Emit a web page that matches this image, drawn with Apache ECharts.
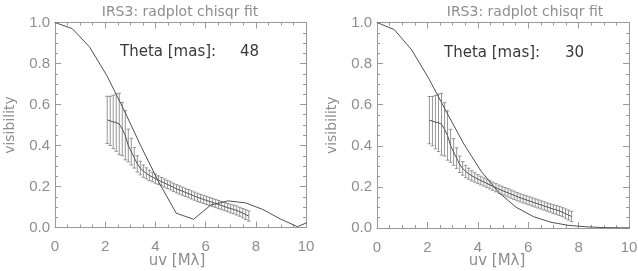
<!DOCTYPE html>
<html>
<head>
<meta charset="utf-8">
<script src="https://cdn.jsdelivr.net/npm/echarts@6/dist/echarts.min.js"></script>
<style>html,body{margin:0;padding:0;background:#fff}#c{width:638px;height:271px}</style>
</head>
<body>
<div id="c"></div>
<script>
// ---- data ----
const modelX = [0, 0.69, 1.38, 2.07, 2.76, 3.45, 4.14, 4.83, 5.52, 6.21, 6.90, 7.59, 8.28, 8.97, 9.66, 10.35];
const modelLeft = [1.0, 0.97, 0.88, 0.74, 0.57, 0.39, 0.22, 0.07, 0.04, 0.11, 0.13, 0.12, 0.088, 0.042, 0.004, 0.04];
const modelRight = [1.0, 0.965, 0.866, 0.724, 0.564, 0.408, 0.275, 0.173, 0.101, 0.055, 0.028, 0.013, 0.006, 0.002, 0.001, 0.0003];

const dataX = [2.08,2.20,2.32,2.44,2.56,2.68,2.80,2.92,3.04,3.16,3.28,3.40,3.52,3.64,3.76,3.88,4.00,4.12,4.24,4.36,4.48,4.60,4.72,4.84,4.96,5.08,5.20,5.32,5.44,5.56,5.68,5.80,5.92,6.04,6.16,6.28,6.40,6.52,6.64,6.76,6.88,7.00,7.12,7.24,7.36,7.48,7.60,7.72];
const dataY = [0.525,0.52,0.515,0.512,0.505,0.48,0.45,0.40,0.37,0.34,0.31,0.29,0.275,0.264,0.254,0.246,0.238,0.231,0.224,0.217,0.210,0.203,0.196,0.189,0.183,0.177,0.171,0.165,0.159,0.153,0.147,0.142,0.137,0.132,0.127,0.122,0.117,0.112,0.107,0.102,0.097,0.092,0.088,0.083,0.077,0.070,0.063,0.056];
const dataErr = [0.115,0.12,0.13,0.14,0.15,0.13,0.12,0.08,0.065,0.05,0.04,0.033,0.03,0.027,0.025,0.023,0.022,0.021,0.02,0.02,0.02,0.02,0.02,0.02,0.02,0.02,0.02,0.02,0.02,0.02,0.02,0.02,0.02,0.02,0.02,0.02,0.02,0.02,0.02,0.02,0.02,0.021,0.021,0.022,0.022,0.023,0.024,0.025];

const xTicks = [0, 2, 4, 6, 8, 10];
const yTicks = [0.0, 0.2, 0.4, 0.6, 0.8, 1.0];
const titleText = 'IRS3: radplot chisqr fit';
const xName = 'uv [Mλ]';
const yName = 'visibility';
const thetaLabel = 'Theta [mas]:';
const thetaValues = ['48', '30'];

// ---- build ----
const chart = echarts.init(document.getElementById('c'), null, {renderer: 'canvas'});
const AX = '#9a9a9a';
const TXT = '#8e8e8e';
const LINE = '#505050';

const grids = [
  {left: 55, top: 22.5, width: 251, height: 205, outerBoundsMode: 'none', containLabel: false},
  {left: 377, top: 22.5, width: 252, height: 205.5, outerBoundsMode: 'none', containLabel: false}
];

function xAx(gi, pos, labels) {
  return {
    type: 'value', gridIndex: gi, position: pos, min: 0, max: 10, interval: 2,
    axisLine: {show: true, onZero: false, lineStyle: {color: AX, width: 1}},
    axisTick: {show: true, inside: true, length: 6, lineStyle: {color: AX}},
    minorTick: {show: true, splitNumber: 4, length: 3, lineStyle: {color: AX}},
    splitLine: {show: false},
    axisLabel: {show: labels, margin: 12, color: TXT, fontSize: 15, fontFamily: 'Liberation Sans',
      formatter: v => xTicks.includes(v) ? String(v) : ''}
  };
}
function yAx(gi, pos, labels) {
  return {
    type: 'value', gridIndex: gi, position: pos, min: 0, max: 1, interval: 0.2,
    axisLine: {show: true, onZero: false, lineStyle: {color: AX, width: 1}},
    axisTick: {show: true, inside: true, length: 6, lineStyle: {color: AX}},
    minorTick: {show: true, splitNumber: 4, length: 3, lineStyle: {color: AX}},
    splitLine: {show: false},
    axisLabel: {show: labels, margin: 5, color: TXT, fontSize: 15, fontFamily: 'Liberation Sans',
      formatter: v => yTicks.some(t => Math.abs(t - v) < 1e-6) ? v.toFixed(1) : ''},
    name: labels ? yName : '', nameLocation: 'middle', nameGap: 38,
    nameTextStyle: {color: TXT, fontSize: 14, fontFamily: 'DejaVu Sans'}
  };
}

const xAxis = [xAx(0,'bottom',true), xAx(0,'top',false), xAx(1,'bottom',true), xAx(1,'top',false)];
const yAxis = [yAx(0,'left',true), yAx(0,'right',false), yAx(1,'left',true), yAx(1,'right',false)];

const errData = dataX.map((x, i) => [x, dataY[i] - dataErr[i], dataY[i] + dataErr[i]]);
const dataLine = dataX.map((x, i) => [x, dataY[i]]);

function errSeries(xi, yi) {
  return {
    type: 'custom', xAxisIndex: xi, yAxisIndex: yi, data: errData, clip: true, z: 2,
    renderItem: (params, api) => {
      const x = api.value(0), lo = api.value(1), hi = api.value(2);
      const a = api.coord([x, lo]), b = api.coord([x, hi]);
      const w = 1.8;
      const st = {stroke: '#8a8a8a', lineWidth: 0.9, fill: null};
      return {type: 'group', children: [
        {type: 'line', shape: {x1: a[0], y1: a[1], x2: b[0], y2: b[1]}, style: st},
        {type: 'line', shape: {x1: a[0]-w, y1: a[1], x2: a[0]+w, y2: a[1]}, style: st},
        {type: 'line', shape: {x1: b[0]-w, y1: b[1], x2: b[0]+w, y2: b[1]}, style: st}
      ]};
    }
  };
}
function lineSeries(xi, yi, data, z) {
  return {type: 'line', xAxisIndex: xi, yAxisIndex: yi, data: data, showSymbol: false, symbol: 'none',
    clip: true, lineStyle: {color: LINE, width: 1}, z: z, animation: false};
}

const series = [
  errSeries(0, 0),
  lineSeries(0, 0, dataLine, 3),
  lineSeries(0, 0, modelX.map((x, i) => [x, modelLeft[i]]), 4),
  errSeries(2, 2),
  lineSeries(2, 2, dataLine, 3),
  lineSeries(2, 2, modelX.map((x, i) => [x, modelRight[i]]), 4)
];

const txt = (x, y, text, fill, size, align) => ({type: 'text', x, y,
  style: {text, fill, fontSize: size, fontFamily: 'DejaVu Sans', align: align, verticalAlign: 'middle'}});
const graphic = [
  txt(180, 12, titleText, TXT, 14, 'center'),
  txt(525, 12, titleText, TXT, 14, 'center'),
  txt(177, 261, xName, TXT, 15, 'center'),
  txt(497, 261, xName, TXT, 15, 'center'),
  txt(120, 52, thetaLabel, '#3a3a3a', 15, 'left'),
  txt(240, 52, thetaValues[0], '#3a3a3a', 15, 'left'),
  txt(444, 53, thetaLabel, '#3a3a3a', 15, 'left'),
  txt(565, 53, thetaValues[1], '#3a3a3a', 15, 'left')
];

chart.setOption({animation: false, grid: grids, xAxis, yAxis, series, graphic});
</script>
</body>
</html>
